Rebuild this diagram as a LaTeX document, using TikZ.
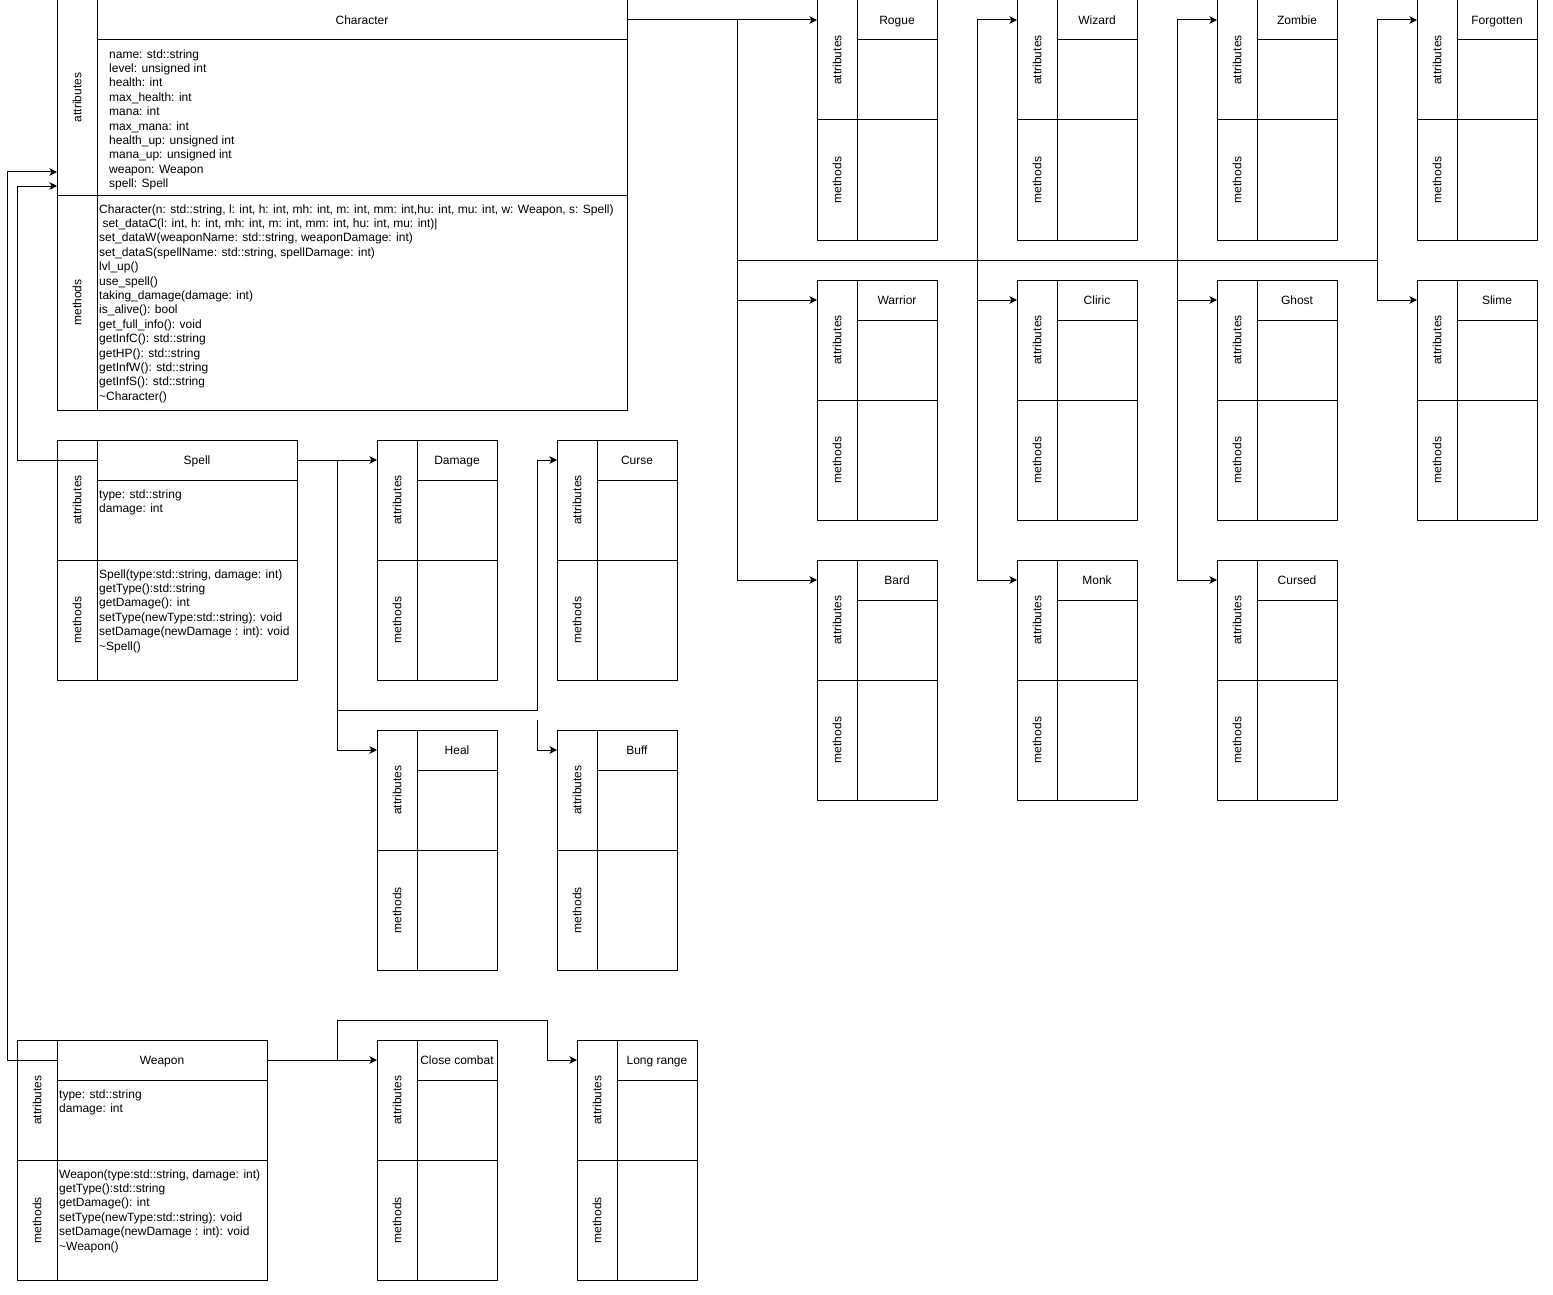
\documentclass[tikz,border=0pt]{standalone}
\usepackage{fontspec}
\setmainfont{Liberation Sans}
\usetikzlibrary{arrows.meta,calc}
\newcommand\clsfont{\fontsize{12}{14.4}\selectfont}
\tikzset{
  x=1pt, y=1pt,
  clsline/.style={line width=1pt, draw=black},
  clsframe/.style={clsline, anchor=north west, inner sep=0pt, outer sep=0pt},
  clstitle/.style={clsline, anchor=north east, inner sep=0pt, outer sep=0pt, font=\clsfont, text height=8.6pt, text depth=0pt},
  clslabel/.style={rotate=90, inner sep=0pt, font=\clsfont},
  clstext/.style={anchor=north west, inner sep=0pt, align=left, font=\clsfont},
  arr/.style={line width=1pt, -{Stealth[length=7.5pt,width=7.5pt,inset=2pt]}},
}
% #1 name, #2 x, #3 y, #4 w, #5 stripe w, #6 title h, #7 attr bottom, #8 total h, #9 title
\newcommand\clsbox[9]{%
  \node[clsframe, minimum width=#4pt, minimum height=#8pt] (#1) at (#2,-#3) {};
  \node[clstitle, minimum width={(#4-#5)*1pt}, minimum height=#6pt] (#1-t) at (#1.north east) {#9};
  \draw[clsline] ([xshift=#5pt]#1.north west) -- ([xshift=#5pt]#1.south west);
  \draw[clsline] ([yshift=-#7pt]#1.north west) -- ([yshift=-#7pt]#1.north east);
  \node[clslabel] (#1-la) at ([xshift={#5/2*1pt}, yshift={-#7/2*1pt}]#1.north west) {attributes};
  \node[clslabel] (#1-lm) at ([xshift={#5/2*1pt}, yshift={-(#7+#8)/2*1pt}]#1.north west) {methods};
}
\begin{document}
\begin{tikzpicture}
\fill[white] (0,0) rectangle (1553,-1295);
\useasboundingbox (0,0) rectangle (1553,-1295);

% main classes
\clsbox{Character}{57}{0}{570}{40}{40}{195}{410}{Character}
\clsbox{Spell}{57}{440}{240}{40}{40}{120}{240}{Spell}
\clsbox{Weapon}{17}{1040}{250}{40}{40}{120}{240}{Weapon}

% character subclasses
\clsbox{Rogue}{817}{0}{120}{40}{40}{120}{240}{Rogue}
\clsbox{Wizard}{1017}{0}{120}{40}{40}{120}{240}{Wizard}
\clsbox{Zombie}{1217}{0}{120}{40}{40}{120}{240}{Zombie}
\clsbox{Forgotten}{1417}{0}{120}{40}{40}{120}{240}{Forgotten}
\clsbox{Warrior}{817}{280}{120}{40}{40}{120}{240}{Warrior}
\clsbox{Cliric}{1017}{280}{120}{40}{40}{120}{240}{Cliric}
\clsbox{Ghost}{1217}{280}{120}{40}{40}{120}{240}{Ghost}
\clsbox{Slime}{1417}{280}{120}{40}{40}{120}{240}{Slime}
\clsbox{Bard}{817}{560}{120}{40}{40}{120}{240}{Bard}
\clsbox{Monk}{1017}{560}{120}{40}{40}{120}{240}{Monk}
\clsbox{Cursed}{1217}{560}{120}{40}{40}{120}{240}{Cursed}

% spell subclasses
\clsbox{Damage}{377}{440}{120}{40}{40}{120}{240}{Damage}
\clsbox{Curse}{557}{440}{120}{40}{40}{120}{240}{Curse}
\clsbox{Heal}{377}{730}{120}{40}{40}{120}{240}{Heal}
\clsbox{Buff}{557}{730}{120}{40}{40}{120}{240}{Buff}

% weapon subclasses
\clsbox{Close}{377}{1040}{120}{40}{40}{120}{240}{Close combat}
\clsbox{Long}{577}{1040}{120}{40}{40}{120}{240}{Long range}

% texts
\node[clstext] (Character-atxt) at (109,-47.9) {\strut name: std::string\\level: unsigned int\\health: int\\max\_health: int\\mana: int\\max\_mana: int\\health\_up: unsigned int\\mana\_up: unsigned int\\weapon: Weapon\\spell: Spell};
\node[clstext] (Character-mtxt) at (99,-202.9) {\strut Character(n: std::string, l: int, h: int, mh: int, m: int, mm: int,hu: int, mu: int, w: Weapon, s: Spell)\\ \ set\_dataC(l: int, h: int, mh: int, m: int, mm: int, hu: int, mu: int)|\\set\_dataW(weaponName: std::string, weaponDamage: int)\\set\_dataS(spellName: std::string, spellDamage: int)\\lvl\_up()\\use\_spell()\\taking\_damage(damage: int)\\is\_alive(): bool\\get\_full\_info(): void\\getInfC(): std::string\\getHP(): std::string\\getInfW(): std::string\\getInfS(): std::string\\\textasciitilde Character()};
\node[clstext] (Spell-atxt) at (99,-487.9) {\strut type: std::string\\damage: int};
\node[clstext] (Spell-mtxt) at (99,-567.9) {\strut Spell(type:std::string, damage: int)\\getType():std::string\\getDamage(): int\\setType(newType:std::string): void\\setDamage(newDamage : int): void\\\textasciitilde Spell()};
\node[clstext] (Weapon-atxt) at (59,-1087.9) {\strut type: std::string\\damage: int};
\node[clstext] (Weapon-mtxt) at (59,-1167.9) {\strut Weapon(type:std::string, damage: int)\\getType():std::string\\getDamage(): int\\setType(newType:std::string): void\\setDamage(newDamage : int): void\\\textasciitilde Weapon()};

% junction points
\coordinate (j1) at (737,-20);
\coordinate (cW) at (977,-260);
\coordinate (cZ) at (1177,-260);
\coordinate (cF) at (1377,-260);
\coordinate (s1) at (337,-460);
\coordinate (s2) at (537,-710);
\coordinate (s3) at (537,-720);
\coordinate (w1) at (337,-1060);
\coordinate (w2) at (547,-1020);
\coordinate (cs) at (17,-186);
\coordinate (cw) at (7,-172);

% character edges
\draw[arr] (Character-t.east) -- (Rogue.west |- Rogue-t.center);
\draw[arr] (j1) |- (Warrior.west |- Warrior-t.center);
\draw[arr] (j1) |- (Bard.west |- Bard-t.center);
\draw[arr] (j1) |- (cW) |- (Wizard.west |- Wizard-t.center);
\draw[arr] (cW) |- (Cliric.west |- Cliric-t.center);
\draw[arr] (cW) |- (Monk.west |- Monk-t.center);
\draw[arr] (j1) |- (cZ) |- (Zombie.west |- Zombie-t.center);
\draw[arr] (cZ) |- (Ghost.west |- Ghost-t.center);
\draw[arr] (cZ) |- (Cursed.west |- Cursed-t.center);
\draw[arr] (j1) |- (cF) |- (Forgotten.west |- Forgotten-t.center);
\draw[arr] (cF) |- (Slime.west |- Slime-t.center);

% spell edges
\draw[arr] (Spell-t.east) -- (Damage.west |- Damage-t.center);
\draw[arr] (s1) |- (Heal.west |- Heal-t.center);
\draw[arr] (s1) |- (s2) |- (Curse.west |- Curse-t.center);
\draw[arr] (s3) |- (Buff.west |- Buff-t.center);

% weapon edges
\draw[arr] (Weapon-t.east) -- (Close.west |- Close-t.center);
\draw[arr] (w1) |- (w2) |- (Long.west |- Long-t.center);

% links to Character
\draw[arr] (Spell-t.west) -| (cs) -- (Character.west |- cs);
\draw[arr] (Weapon-t.west) -| (cw) -- (Character.west |- cw);
\end{tikzpicture}
\end{document}
